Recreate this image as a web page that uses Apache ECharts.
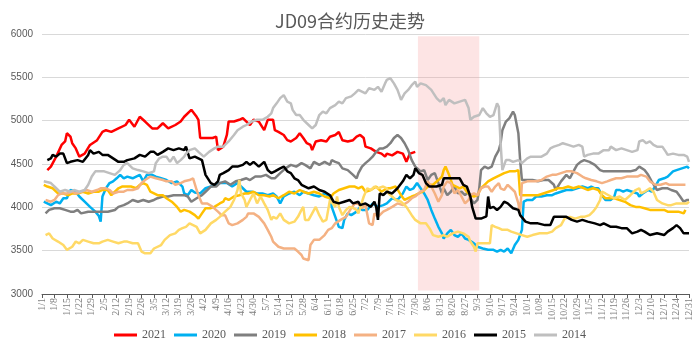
<!DOCTYPE html>
<html>
<head>
<meta charset="utf-8">
<script src="https://cdn.jsdelivr.net/npm/echarts@6/dist/echarts.min.js"></script>
<style>
  html, body { margin: 0; padding: 0; background: #fff; }
  #chart { width: 700px; height: 352px; }
</style>
</head>
<body>
<div id="chart"></div>
<script>
// [day of year (0 = 1/1), price]
const y2021 = [[3,4430],[5,4470],[8,4585],[11,4720],[13,4760],[14,4855],[16,4815],[17,4740],[19,4680],[21,4585],[24,4620],[27,4720],[31,4775],[34,4870],[36,4890],[39,4870],[43,4910],[47,4950],[49,5010],[52,4930],[55,5045],[58,4990],[62,4910],[65,4910],[68,4970],[71,4910],[75,4950],[78,4990],[80,5045],[84,5125],[87,5045],[88,5010],[89,4800],[92,4800],[96,4800],[98,4815],[99,4660],[100,4680],[102,4700],[104,4835],[105,4990],[108,4990],[111,5010],[113,5030],[115,4990],[117,4950],[119,5010],[122,4990],[125,4890],[127,5010],[130,5010],[131,4890],[133,4870],[136,4835],[138,4775],[140,4760],[143,4800],[145,4855],[147,4800],[149,4740],[151,4720],[152,4660],[154,4760],[157,4775],[160,4760],[162,4815],[165,4835],[167,4870],[169,4775],[172,4760],[175,4775],[177,4815],[179,4835],[181,4800],[182,4700],[185,4680],[188,4640],[191,4620],[193,4585],[194,4620],[197,4600],[200,4640],[203,4620],[205,4525],[207,4620],[210,4640]];

const y2020 = [[1,4065],[3,4045],[5,4025],[8,4065],[10,4045],[12,4105],[14,4105],[16,4200],[17,4200],[19,4180],[21,4125],[24,4065],[27,4005],[30,3950],[32,3900],[33,3835],[34,4125],[36,4220],[38,4280],[40,4300],[42,4335],[44,4375],[46,4335],[48,4355],[49,4375],[51,4335],[53,4355],[55,4375],[57,4300],[59,4375],[62,4375],[64,4355],[67,4335],[70,4315],[73,4280],[76,4300],[79,4240],[80,4160],[82,4140],[84,4200],[86,4170],[89,4160],[92,4220],[95,4240],[98,4260],[100,4280],[104,4280],[107,4240],[110,4280],[113,4220],[115,4180],[118,4180],[121,4160],[124,4160],[127,4140],[130,4160],[132,4125],[134,4045],[136,4125],[139,4160],[142,4180],[145,4140],[147,4180],[150,4160],[153,4140],[156,4125],[159,4160],[162,4125],[163,4005],[165,3890],[167,3775],[169,3760],[170,3855],[172,3930],[174,3910],[177,3950],[179,4005],[180,3970],[183,3970],[186,4045],[189,4005],[192,4025],[194,4045],[197,4105],[200,4085],[203,4160],[205,4240],[207,4200],[209,4220],[210,4200],[211,4280],[213,4220],[215,4160],[217,4085],[219,3970],[221,3870],[223,3775],[225,3700],[226,3640],[228,3700],[230,3740],[232,3680],[234,3660],[236,3700],[238,3640],[240,3625],[241,3605],[243,3585],[245,3545],[248,3525],[251,3510],[254,3510],[256,3490],[258,3510],[260,3490],[262,3525],[264,3470],[266,3565],[268,3625],[269,3605],[270,3740],[271,4065],[273,4085],[276,4085],[278,4125],[281,4125],[284,4140],[287,4140],[289,4160],[292,4180],[295,4200],[298,4200],[301,4220],[304,4240],[305,4240],[307,4220],[309,4240],[311,4220],[313,4220],[315,4140],[317,4085],[320,4085],[322,4125],[323,4200],[325,4200],[327,4180],[329,4200],[332,4180],[335,4160],[336,4125],[338,4160],[341,4200],[343,4180],[345,4240],[347,4315],[350,4335],[352,4355],[355,4415],[357,4430],[360,4450],[363,4470],[364,4450]];

const y2019 = [[2,3930],[4,3970],[7,3990],[10,3990],[13,3970],[16,3950],[18,3950],[20,3970],[22,3930],[26,3950],[30,3950],[33,3950],[37,3950],[41,3970],[43,4005],[46,4025],[48,4045],[51,4085],[54,4065],[57,4085],[60,4065],[63,4085],[65,4105],[68,4125],[71,4125],[74,4140],[77,4140],[80,4140],[82,4125],[84,4065],[87,4105],[90,4140],[92,4180],[95,4240],[98,4240],[100,4280],[103,4300],[106,4260],[109,4300],[112,4315],[115,4335],[117,4315],[120,4355],[123,4355],[126,4375],[129,4335],[131,4335],[134,4395],[137,4450],[140,4490],[143,4470],[146,4510],[148,4490],[151,4450],[153,4525],[156,4490],[159,4525],[162,4490],[163,4545],[165,4525],[167,4510],[169,4450],[172,4430],[175,4375],[177,4335],[178,4395],[180,4470],[182,4510],[184,4545],[186,4585],[188,4640],[190,4680],[192,4680],[194,4700],[196,4740],[198,4800],[200,4835],[202,4800],[204,4740],[206,4660],[208,4545],[210,4470],[211,4450],[213,4415],[215,4430],[217,4315],[219,4375],[221,4395],[223,4280],[225,4160],[226,4220],[228,4140],[230,4180],[232,4240],[234,4160],[236,4180],[238,4140],[240,4180],[241,4105],[243,4045],[245,4085],[246,4220],[247,4430],[249,4470],[251,4450],[253,4470],[255,4585],[257,4660],[258,4740],[259,4890],[261,4990],[263,5030],[265,5105],[266,5065],[268,4855],[269,4545],[270,4315],[273,4315],[276,4315],[279,4300],[282,4315],[285,4315],[288,4260],[289,4200],[292,4300],[295,4375],[297,4335],[299,4415],[301,4490],[303,4525],[305,4545],[306,4565],[308,4525],[311,4490],[314,4430],[316,4415],[320,4415],[323,4415],[327,4415],[331,4415],[334,4430],[336,4470],[337,4470],[339,4430],[341,4375],[343,4300],[346,4200],[349,4220],[352,4220],[354,4200],[357,4180],[359,4125],[361,4065],[363,4085],[364,4085]];

const y2018 = [[1,4260],[3,4240],[6,4220],[9,4160],[12,4160],[15,4140],[17,4160],[20,4160],[23,4180],[26,4160],[29,4180],[32,4180],[34,4200],[37,4200],[39,4140],[41,4180],[43,4220],[45,4240],[48,4240],[50,4240],[53,4220],[55,4260],[57,4280],[59,4260],[61,4180],[63,4160],[65,4140],[68,4140],[70,4105],[73,4065],[76,4005],[78,3950],[80,3970],[83,3950],[86,3910],[88,3870],[90,3930],[92,3990],[95,3990],[97,4005],[100,4045],[102,4065],[103,4105],[105,4085],[108,4125],[111,4140],[114,4160],[116,4160],[119,4180],[122,4140],[125,4140],[128,4125],[130,4140],[133,4105],[136,4140],[139,4180],[142,4160],[145,4200],[147,4180],[150,4160],[153,4180],[156,4160],[159,4125],[162,4105],[164,4160],[167,4200],[170,4220],[173,4240],[176,4240],[178,4220],[180,4240],[182,4180],[185,4200],[188,4240],[191,4180],[194,4220],[196,4220],[199,4240],[202,4140],[204,4085],[206,4105],[208,4125],[210,4140],[211,4125],[214,4180],[216,4220],[218,4260],[220,4260],[223,4315],[225,4355],[226,4430],[227,4470],[229,4375],[231,4260],[233,4240],[235,4220],[237,4240],[239,4180],[241,4140],[243,4125],[245,4140],[247,4220],[249,4260],[251,4300],[254,4335],[256,4355],[258,4375],[260,4395],[263,4415],[266,4415],[268,4430],[269,4140],[272,4140],[275,4140],[279,4140],[282,4160],[285,4180],[288,4200],[290,4220],[293,4220],[296,4240],[299,4220],[302,4240],[305,4220],[307,4200],[310,4220],[313,4200],[315,4140],[317,4105],[320,4105],[322,4105],[325,4085],[328,4065],[331,4025],[334,4005],[336,4005],[339,3990],[342,3970],[346,3970],[350,3970],[352,3950],[355,3950],[358,3950],[361,3930],[362,3970]];

const y2017 = [[2,4085],[3,4065],[5,4065],[7,4085],[9,4140],[11,4160],[14,4160],[17,4180],[19,4160],[22,4180],[25,4200],[28,4180],[31,4200],[33,4220],[36,4220],[38,4200],[40,4160],[43,4180],[46,4180],[48,4200],[51,4200],[54,4220],[56,4280],[58,4315],[61,4355],[64,4335],[65,4355],[68,4315],[70,4300],[73,4300],[75,4260],[78,4280],[80,4300],[83,4315],[85,4335],[87,4200],[88,4140],[90,4045],[93,4045],[96,4005],[99,3950],[101,3910],[103,3910],[105,3815],[107,3795],[110,3815],[113,3855],[115,3890],[116,3930],[119,3930],[122,3890],[125,3815],[127,3740],[129,3660],[130,3605],[133,3545],[136,3525],[139,3525],[142,3525],[144,3490],[146,3450],[147,3410],[150,3390],[151,3565],[153,3625],[156,3625],[159,3680],[161,3740],[163,3760],[165,3815],[168,3855],[171,3890],[174,3990],[176,4045],[178,4040],[180,3990],[182,4025],[184,3815],[186,3795],[187,3930],[189,3890],[192,3950],[194,3970],[197,4005],[200,4045],[203,4025],[206,4065],[208,4105],[210,4125],[211,4140],[213,4180],[215,4200],[217,4300],[219,4240],[221,4160],[223,4065],[225,4140],[226,4240],[228,4300],[230,4280],[232,4160],[234,4200],[236,4125],[238,4045],[240,4085],[241,4140],[243,4160],[245,4140],[247,4220],[249,4240],[251,4240],[253,4180],[255,4240],[257,4280],[258,4220],[260,4200],[262,4260],[264,4220],[266,4180],[268,4045],[269,3930],[270,4280],[273,4300],[276,4300],[278,4300],[281,4315],[284,4355],[287,4375],[289,4375],[292,4395],[295,4415],[298,4415],[301,4395],[304,4355],[306,4335],[309,4315],[312,4300],[315,4280],[318,4300],[320,4315],[323,4335],[326,4335],[329,4355],[332,4355],[335,4355],[337,4375],[340,4355],[342,4300],[345,4260],[348,4260],[351,4280],[353,4260],[356,4260],[359,4260],[362,4260]];

const y2016 = [[2,3680],[4,3700],[6,3640],[9,3605],[12,3565],[14,3510],[17,3545],[19,3605],[21,3585],[23,3625],[26,3605],[29,3585],[32,3585],[34,3605],[37,3625],[40,3605],[43,3585],[46,3605],[48,3605],[51,3585],[54,3585],[56,3490],[58,3470],[61,3470],[63,3525],[64,3545],[67,3565],[69,3625],[72,3680],[75,3700],[77,3740],[79,3760],[81,3775],[83,3815],[85,3795],[87,3775],[89,3700],[92,3740],[95,3815],[98,3855],[100,3890],[103,3950],[106,4005],[108,4085],[110,4200],[111,4315],[112,4160],[114,4085],[115,4005],[117,4085],[119,4160],[121,4045],[123,4125],[125,4045],[127,3970],[129,3855],[130,3890],[132,3870],[134,3930],[136,3855],[139,3815],[142,3835],[144,3890],[146,3970],[147,4005],[148,3855],[150,3855],[152,3930],[154,4005],[156,3910],[158,3835],[160,3855],[162,4085],[163,4085],[165,4005],[166,4125],[167,4005],[169,3910],[171,3970],[173,4005],[175,3990],[177,3970],[178,3930],[179,3950],[181,4125],[183,4220],[185,4200],[187,4240],[189,4220],[192,4240],[194,4220],[195,4160],[197,4125],[199,4085],[202,4065],[205,4005],[208,3910],[210,3855],[213,3815],[216,3815],[218,3760],[220,3680],[223,3660],[226,3680],[228,3660],[231,3700],[234,3720],[237,3700],[240,3660],[241,3605],[243,3545],[244,3490],[245,3585],[247,3585],[250,3585],[252,3585],[253,3795],[255,3775],[257,3760],[259,3740],[262,3740],[264,3720],[267,3700],[270,3680],[273,3660],[276,3680],[280,3700],[284,3700],[287,3720],[289,3760],[292,3795],[294,3870],[297,3890],[300,3870],[303,3890],[305,3890],[308,3910],[310,3950],[312,4005],[314,4085],[315,4180],[317,4160],[320,4125],[322,4105],[325,4125],[328,4085],[331,4140],[334,4200],[336,4220],[337,4160],[339,4180],[342,4220],[344,4180],[346,4085],[349,4045],[352,4025],[354,4025],[357,4045],[360,4045],[363,4045],[364,4065]];

const y2015 = [[3,4545],[5,4565],[6,4605],[8,4585],[10,4620],[12,4620],[14,4510],[16,4525],[17,4510],[20,4545],[23,4525],[26,4605],[27,4660],[29,4620],[32,4640],[34,4605],[37,4605],[40,4565],[43,4525],[46,4525],[48,4545],[52,4565],[55,4605],[58,4585],[61,4640],[63,4640],[65,4605],[68,4640],[71,4680],[74,4660],[77,4680],[80,4660],[81,4700],[83,4565],[86,4585],[88,4565],[90,4545],[92,4375],[95,4280],[97,4260],[99,4300],[100,4375],[102,4395],[105,4430],[107,4470],[110,4470],[113,4490],[115,4525],[117,4490],[119,4525],[122,4470],[125,4525],[127,4430],[129,4395],[131,4415],[134,4450],[136,4470],[138,4415],[140,4395],[142,4335],[144,4315],[146,4260],[147,4280],[150,4220],[153,4240],[156,4200],[159,4180],[162,4140],[164,4065],[167,4045],[170,4065],[173,4085],[175,4045],[178,4065],[179,4025],[182,4045],[185,4005],[187,4065],[188,4005],[189,3855],[190,4160],[192,4140],[194,4180],[197,4160],[200,4220],[203,4300],[205,4375],[207,4335],[209,4375],[210,4450],[212,4395],[214,4375],[216,4280],[218,4240],[222,4240],[225,4260],[226,4335],[229,4335],[233,4335],[235,4335],[237,4260],[239,4240],[241,4125],[242,4005],[244,3870],[247,3870],[250,3895],[251,4125],[252,3990],[254,4005],[256,3970],[258,4005],[260,4065],[262,4045],[265,3990],[268,3970],[269,3910],[272,3835],[275,3815],[279,3815],[283,3795],[286,3795],[288,3890],[291,3890],[295,3890],[298,3855],[301,3835],[304,3855],[307,3835],[311,3815],[314,3795],[316,3815],[318,3795],[320,3775],[323,3775],[326,3760],[329,3760],[332,3700],[335,3720],[337,3740],[339,3720],[342,3680],[346,3700],[350,3680],[352,3720],[355,3760],[357,3795],[359,3760],[361,3700],[364,3700]];

const y2014 = [[1,4300],[2,4315],[5,4280],[8,4220],[10,4180],[13,4200],[16,4180],[18,4200],[21,4180],[24,4200],[26,4260],[28,4355],[30,4415],[33,4415],[35,4415],[38,4395],[41,4375],[44,4430],[46,4490],[48,4510],[49,4490],[51,4450],[54,4430],[57,4415],[60,4395],[63,4415],[64,4510],[66,4565],[68,4585],[70,4585],[72,4525],[74,4585],[76,4510],[78,4545],[80,4585],[81,4620],[83,4660],[86,4680],[88,4640],[91,4585],[94,4640],[97,4680],[99,4700],[102,4700],[105,4760],[108,4835],[110,4890],[113,4930],[115,4950],[118,4990],[121,5010],[124,5010],[127,5045],[129,5085],[130,5145],[132,5200],[134,5260],[136,5295],[138,5220],[140,5200],[141,5125],[143,5065],[145,5065],[147,5010],[148,5030],[150,4950],[152,4910],[154,4950],[156,5065],[158,5105],[160,5085],[162,5145],[163,5125],[165,5180],[167,5220],[169,5200],[171,5260],[174,5280],[176,5315],[178,5355],[180,5335],[182,5315],[184,5375],[187,5355],[189,5390],[191,5335],[193,5430],[194,5470],[196,5490],[198,5430],[200,5355],[202,5240],[204,5315],[206,5355],[208,5410],[210,5450],[211,5390],[213,5430],[216,5410],[219,5355],[222,5260],[224,5220],[226,5260],[227,5180],[229,5240],[232,5200],[235,5220],[238,5240],[240,5145],[241,5010],[243,5045],[246,5065],[248,5145],[250,5085],[252,5045],[254,5065],[256,5200],[257,5160],[258,4740],[259,4430],[261,4545],[263,4545],[265,4525],[268,4545],[270,4510],[273,4565],[275,4585],[278,4585],[281,4585],[284,4620],[286,4680],[288,4700],[291,4720],[293,4740],[296,4720],[299,4700],[302,4720],[304,4700],[305,4585],[307,4605],[310,4620],[313,4620],[316,4660],[319,4660],[320,4700],[323,4660],[326,4680],[329,4660],[332,4640],[335,4660],[336,4760],[338,4775],[340,4740],[342,4760],[344,4720],[346,4700],[349,4700],[351,4640],[352,4605],[355,4620],[358,4605],[361,4605],[363,4585],[364,4525]];

const years = ['2021', '2020', '2019', '2018', '2017', '2016', '2015', '2014'];
const yearData = [y2021, y2020, y2019, y2018, y2017, y2016, y2015, y2014];
const colors = ['#FF0000', '#00B0F0', '#7F7F7F', '#FFC000', '#F4B183', '#FFD966', '#000000', '#BFBFBF'];

// shaded delivery window 8/1 - 9/4
const shadeDays = [211.5, 246];
const shadeRange = [3040, 5975];

const monthDays = [31, 28, 31, 30, 31, 30, 31, 31, 30, 31, 30, 31];
function dayLabel(d) {
  let m = 0;
  while (m < 11 && d >= monthDays[m]) { d -= monthDays[m]; m++; }
  return (m + 1) + '/' + (d + 1);
}

const chart = echarts.init(document.getElementById('chart'));

const series = years.map((y, i) => ({
  name: y,
  type: 'line',
  data: yearData[i],
  showSymbol: false,
  symbol: 'none',
  color: colors[i],
  lineStyle: { width: 2.5, color: colors[i] },
  z: 2
}));

series.push({
  name: 'shade',
  type: 'line',
  data: [],
  z: 5,
  silent: true,
  markArea: {
    silent: true,
    itemStyle: { color: 'rgba(248,150,150,0.26)' },
    data: [[{ coord: [shadeDays[0], shadeRange[0]] }, { coord: [shadeDays[1], shadeRange[1]] }]]
  }
});

chart.setOption({
  animation: false,
  backgroundColor: '#fff',
  title: {
    text: 'JD09合约历史走势',
    left: 'center',
    top: 7,
    textStyle: {
      color: '#595959',
      fontFamily: 'Noto Sans CJK SC',
      fontWeight: 'normal',
      fontSize: 18
    }
  },
  legend: {
    data: years,
    bottom: 6,
    left: 'center',
    icon: 'rect',
    itemWidth: 23,
    itemHeight: 3,
    itemGap: 8,
    textStyle: { color: '#595959', fontFamily: 'Liberation Serif', fontSize: 12 }
  },
  grid: { left: 42, right: 11, top: 34, bottom: 58 },
  xAxis: {
    type: 'value',
    min: 0,
    max: 364,
    interval: 7,
    axisLine: { lineStyle: { color: '#595959', width: 1 } },
    axisTick: { show: true, length: 4, lineStyle: { color: '#595959' } },
    splitLine: { show: false },
    axisLabel: {
      rotate: 90,
      margin: 4,
      color: '#7F7F7F',
      fontFamily: 'Liberation Serif',
      fontSize: 10,
      formatter: v => dayLabel(v)
    }
  },
  yAxis: {
    type: 'value',
    min: 3000,
    max: 6000,
    interval: 500,
    axisLine: { show: false },
    axisTick: { show: false },
    splitLine: { lineStyle: { color: '#D9D9D9', width: 1 } },
    axisLabel: {
      color: '#595959',
      fontFamily: 'Liberation Sans',
      fontSize: 10,
      margin: 9,
      formatter: v => String(v)
    }
  },
  series: series
});
</script>
</body>
</html>
